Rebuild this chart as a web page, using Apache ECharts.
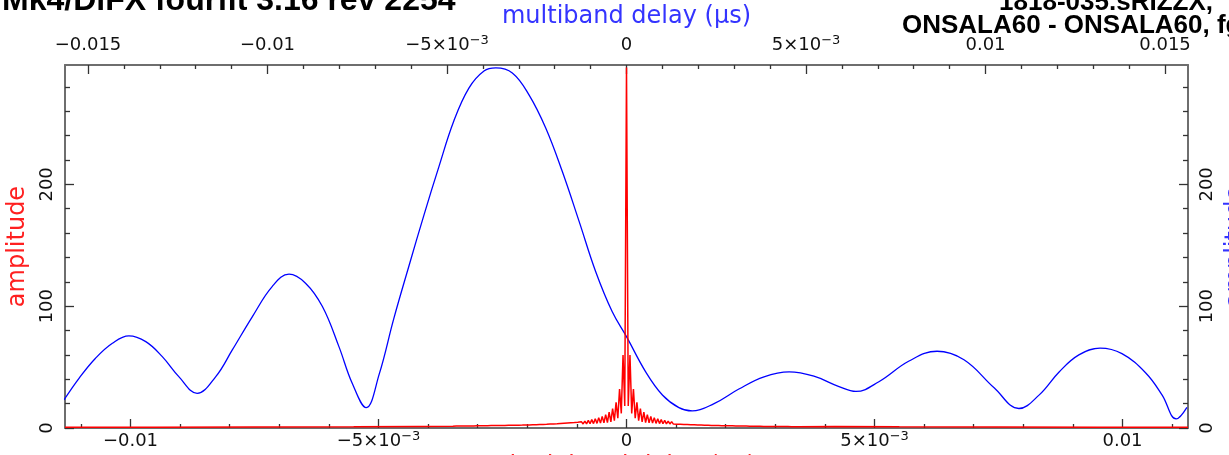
<!DOCTYPE html>
<html>
<head>
<meta charset="utf-8">
<script src="https://cdn.jsdelivr.net/npm/echarts@6/dist/echarts.min.js"></script>
<style>
  html, body { margin: 0; padding: 0; background: #fff; overflow: hidden; }
  #chart { width: 1229px; height: 455px; }
</style>
</head>
<body>
<div id="chart"></div>
<script>
// multiband delay function (top axis, blue)
const mbDelay = [-0.01567, -0.01525, -0.01479, -0.01432, -0.01386, -0.01339, -0.01293, -0.01247, -0.01196,
  -0.01144, -0.01098, -0.01042, -0.00987, -0.00940, -0.00894, -0.00847, -0.00801, -0.00764, -0.00725,
  -0.00689, -0.00648, -0.00606, -0.00564, -0.00522, -0.00481, -0.00439, -0.00397, -0.00364, -0.00318,
  -0.00272, -0.00225, -0.00179, -0.00132, -0.00086, -0.00040, 0.00000, 0.00053, 0.00100, 0.00146,
  0.00183, 0.00244, 0.00313, 0.00383, 0.00453, 0.00522, 0.00592, 0.00639, 0.00703, 0.00787, 0.00865,
  0.00940, 0.01024, 0.01093, 0.01149, 0.01205, 0.01260, 0.01319, 0.01380, 0.01447, 0.01492, 0.01531, 0.01561];
const mbAmp = [23.0, 40.8, 57.3, 69.6, 75.6, 70.9, 58.6, 42.2, 28.5,
  42.2, 64.1, 91.5, 116.1, 126.3, 118.9, 99.7, 66.8, 36.7, 16.7,
  44.0, 90.0, 133.0, 175.0, 215.0, 252.0, 279.0, 293.0, 295.6, 291.5,
  273.7, 246.3, 210.7, 169.6, 128.5, 95.6, 75.0, 46.3, 27.1, 16.7,
  14.0, 20.0, 32.0, 42.0, 46.0, 42.5, 34.0, 30.0, 38.0, 55.0, 63.0,
  56.0, 33.0, 16.0, 27.0, 46.0, 60.0, 65.5, 61.0, 45.0, 27.0, 7.5, 17.0];

// singleband delay function (bottom axis, red), sampled every sbStep around the peak
const sbCenterAmp = 296;
const sbStep = 0.000035;
// sidelobe maxima, going outward from zero delay
const sbPeakAmp = [60, 32, 21, 16, 13, 11, 9.5, 8.5, 7.6, 6.9, 6.2, 5.7, 5.2, 4.8, 4.5, 4.3, 4.1,
  3.9, 3.7, 3.5, 3.35, 3.2, 3.05, 2.95, 2.85, 2.75, 2.65, 2.55, 2.5, 2.4, 2.35, 2.3, 2.25, 2.2,
  2.15, 2.1, 2.05, 2.0, 1.95, 1.9, 1.85, 1.8, 1.75, 1.7, 1.7, 1.65, 1.6, 1.6, 1.55, 1.5];
// minima between them
const sbTroughAmp = [18, 12, 8, 6, 5, 4.5, 4.2, 4, 3.8, 3.6, 3.5, 3.4, 3.3, 3.2, 3.1, 3.0, 2.9,
  2.8, 2.7, 2.6, 2.5, 2.4, 2.3, 2.2, 2.1, 2.0, 1.95, 1.9, 1.85, 1.8, 1.75, 1.7, 1.65, 1.6,
  1.55, 1.5, 1.45, 1.4, 1.35, 1.3, 1.3, 1.25, 1.25, 1.2, 1.2, 1.15, 1.15, 1.1, 1.1, 1.05];
// far wings (left side, the right side mirrors it)
const sbWingDelay = [-0.01132, -0.0095, -0.0075, -0.0055, -0.0042];
const sbWingAmp = [0.6, 0.7, 0.9, 1.1, 1.3];

const bottomMajor = [-0.01, -0.005, 0, 0.005, 0.01];
const bottomMajorText = ['−0.01', '−5×10^−3', '0', '5×10^−3', '0.01'];
const bottomMinor = [-0.011, -0.009, -0.008, -0.007, -0.006, -0.004, -0.003, -0.002, -0.001,
  0.001, 0.002, 0.003, 0.004, 0.006, 0.007, 0.008, 0.009, 0.011];
const topMajor = [-0.015, -0.01, -0.005, 0, 0.005, 0.01, 0.015];
const topMajorText = ['−0.015', '−0.01', '−5×10^−3', '0', '5×10^−3', '0.01', '0.015'];
const topMinor = [-0.014, -0.013, -0.012, -0.011, -0.009, -0.008, -0.007, -0.006, -0.004, -0.003,
  -0.002, -0.001, 0.001, 0.002, 0.003, 0.004, 0.006, 0.007, 0.008, 0.009, 0.011, 0.012, 0.013, 0.014];
const ampMajor = [0, 100, 200];
const ampMinor = [20, 40, 60, 80, 120, 140, 160, 180, 220, 240, 260, 280];

const sbRange = 0.01132;
const mbRange = 0.01564;
const ampMax = 298;

const font = '"DejaVu Sans", sans-serif';
const frameColor = '#6e6e6e';
const tickColor = '#333';

// red series: wings + sampled centre
const sbData = [];
sbWingDelay.forEach((d, i) => sbData.push([d, sbWingAmp[i]]));
for (let k = sbPeakAmp.length; k >= 1; k--) {
  sbData.push([-2 * k * sbStep, sbPeakAmp[k - 1]]);
  sbData.push([-(2 * k - 1) * sbStep, sbTroughAmp[k - 1]]);
}
sbData.push([0, sbCenterAmp]);
for (let k = 1; k <= sbPeakAmp.length; k++) {
  sbData.push([(2 * k - 1) * sbStep, sbTroughAmp[k - 1]]);
  sbData.push([2 * k * sbStep, sbPeakAmp[k - 1]]);
}
for (let i = sbWingDelay.length - 1; i >= 0; i--) sbData.push([-sbWingDelay[i], sbWingAmp[i]]);

const mbData = mbDelay.map((d, i) => [d, mbAmp[i]]);

const tickRich = {
  n: { fontSize: 18, lineHeight: 22, fontFamily: font, color: '#111' },
  s: { fontSize: 13, lineHeight: 10, verticalAlign: 'top', fontFamily: font, color: '#111' }
};

function tickFormatter(values, texts) {
  return (v) => {
    const i = values.findIndex(t => Math.abs(t - v) < 1e-9);
    if (i < 0) return '';
    const parts = texts[i].split('^');
    return parts.length > 1 ? `{n|${parts[0]}}{s|${parts[1]}}` : `{n|${parts[0]}}`;
  };
}

function minorAxis(extra, values, len) {
  return Object.assign({
    type: 'value',
    axisLine: { show: false, onZero: false },
    axisTick: { show: true, inside: true, length: len, customValues: values, lineStyle: { color: tickColor, width: 1.3 } },
    axisLabel: { show: false },
    splitLine: { show: false }
  }, extra);
}

const chart = echarts.init(document.getElementById('chart'));

const option = {
  animation: false,
  backgroundColor: '#fff',
  grid: { left: 65, right: 41, top: 65, bottom: 27, outerBoundsMode: 'none', containLabel: false },
  graphic: [
    { type: 'text', x: 2, y: 1, style: { text: 'Mk4/DiFX fourfit 3.16 rev 2254', font: 'bold 32px "Liberation Sans"', fill: '#000', verticalAlign: 'middle' } },
    { type: 'text', x: 1213, y: 3, style: { text: '1818-035.sRIZZX,', font: 'bold 26px "Liberation Sans"', fill: '#000', align: 'right', verticalAlign: 'middle' } },
    { type: 'text', x: 902, y: 26, style: { text: 'ONSALA60 - ONSALA60, fgroup X', font: 'bold 26px "Liberation Sans"', fill: '#000', verticalAlign: 'middle' } }
  ],
  xAxis: [
    {
      type: 'value', position: 'bottom', min: -sbRange, max: sbRange,
      axisLine: { show: true, onZero: false, lineStyle: { color: frameColor, width: 2 } },
      axisTick: { show: true, inside: true, length: 9, customValues: bottomMajor, lineStyle: { color: tickColor, width: 1.3 } },
      axisLabel: { customValues: bottomMajor, margin: 2, formatter: tickFormatter(bottomMajor, bottomMajorText), rich: tickRich },
      splitLine: { show: false },
      name: 'singleband delay (μs)', nameLocation: 'middle', nameGap: 25,
      nameTextStyle: { color: '#ff2020', fontSize: 24, fontFamily: font }
    },
    minorAxis({ position: 'bottom', min: -sbRange, max: sbRange }, bottomMinor, 4),
    {
      type: 'value', position: 'top', min: -mbRange, max: mbRange,
      axisLine: { show: true, onZero: false, lineStyle: { color: frameColor, width: 2 } },
      axisTick: { show: true, inside: true, length: 9, customValues: topMajor, lineStyle: { color: tickColor, width: 1.3 } },
      axisLabel: { customValues: topMajor, margin: 9, formatter: tickFormatter(topMajor, topMajorText), rich: tickRich },
      splitLine: { show: false },
      name: 'multiband delay (μs)', nameLocation: 'middle', nameGap: 32,
      nameTextStyle: { color: '#3434ff', fontSize: 24, fontFamily: font }
    },
    minorAxis({ position: 'top', min: -mbRange, max: mbRange }, topMinor, 4)
  ],
  yAxis: [
    {
      type: 'value', position: 'left', min: 0, max: ampMax,
      axisLine: { show: true, onZero: false, lineStyle: { color: frameColor, width: 2 } },
      axisTick: { show: true, inside: true, length: 9, customValues: ampMajor, lineStyle: { color: tickColor, width: 1.3 } },
      axisLabel: { customValues: ampMajor, rotate: 90, margin: 9, fontSize: 18, fontFamily: font, color: '#111' },
      splitLine: { show: false },
      name: 'amplitude', nameLocation: 'middle', nameRotate: 90, nameGap: 28,
      nameTextStyle: { color: '#ff2020', fontSize: 24, fontFamily: font }
    },
    minorAxis({ position: 'left', min: 0, max: ampMax }, ampMinor, 5),
    {
      type: 'value', position: 'right', min: 0, max: ampMax,
      axisLine: { show: true, onZero: false, lineStyle: { color: frameColor, width: 2 } },
      axisTick: { show: true, inside: true, length: 9, customValues: ampMajor, lineStyle: { color: tickColor, width: 1.3 } },
      axisLabel: { customValues: ampMajor, rotate: 90, margin: 10, fontSize: 18, fontFamily: font, color: '#111' },
      splitLine: { show: false },
      name: 'amplitude', nameLocation: 'middle', nameRotate: 90, nameGap: 33,
      nameTextStyle: { color: '#3434ff', fontSize: 24, fontFamily: font }
    },
    minorAxis({ position: 'right', min: 0, max: ampMax }, ampMinor, 5)
  ],
  series: [
    {
      name: 'singleband', type: 'line', xAxisIndex: 0, yAxisIndex: 0,
      data: sbData, showSymbol: false, symbol: 'none',
      lineStyle: { color: '#ff0000', width: 1.5 }, z: 3
    },
    {
      name: 'multiband', type: 'line', xAxisIndex: 2, yAxisIndex: 2,
      data: mbData, showSymbol: false, symbol: 'none', smooth: 0.4,
      lineStyle: { color: '#0000ff', width: 1.3 }, z: 2
    }
  ]
};

chart.setOption(option);
</script>
</body>
</html>
